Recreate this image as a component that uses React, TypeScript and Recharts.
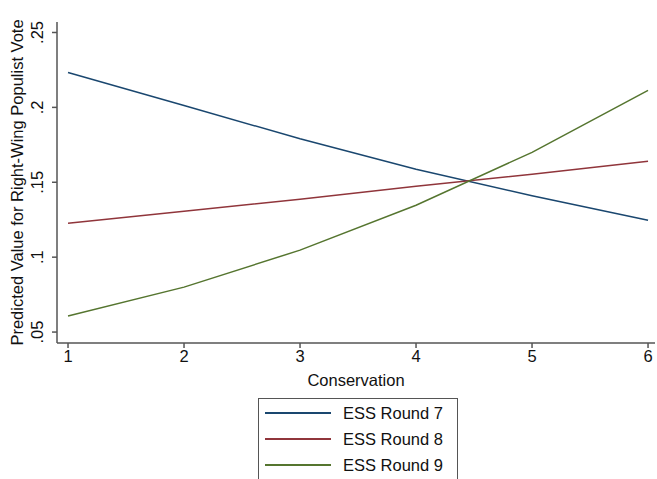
import { LineChart, Line, XAxis, YAxis } from "recharts";

const conservation = [1, 2, 3, 4, 5, 6];
const round7 = [0.2233, 0.2013, 0.179, 0.1587, 0.141, 0.1247];
const round8 = [0.1227, 0.1307, 0.1387, 0.1473, 0.1553, 0.164];
const round9 = [0.0607, 0.08, 0.1047, 0.1347, 0.17, 0.2113];
const yTicks = [0.05, 0.1, 0.15, 0.2, 0.25];
const yTickLabels = [".05", ".1", ".15", ".2", ".25"];
const seriesNames = ["ESS Round 7", "ESS Round 8", "ESS Round 9"];

const COLORS = ["#1a476f", "#90353b", "#55752f"];
const AXIS = "#555";
const FONT = "Liberation Sans, Arial, sans-serif";

const data = conservation.map((c, i) => ({
  x: c,
  r7: round7[i],
  r8: round8[i],
  r9: round9[i],
}));

const YTick = (props: any) => {
  const { x, y, payload } = props;
  const idx = yTicks.indexOf(payload.value);
  return (
    <text
      x={0}
      y={0}
      transform={`translate(${x - 7},${y}) rotate(-90)`}
      textAnchor="middle"
      fontSize={16.5}
      fontFamily={FONT}
      fill="#111"
    >
      {idx >= 0 ? yTickLabels[idx] : payload.value}
    </text>
  );
};

export default function App() {
  return (
    <div style={{ position: "absolute", left: 0, top: 0, width: 657, height: 479, background: "#fff" }}>
      <LineChart
        width={657}
        height={479}
        data={data}
        margin={{ top: 22, right: 2, bottom: 96, left: 0 }}
      >
        <XAxis
          dataKey="x"
          type="number"
          domain={[0.905, 6.06]}
          ticks={conservation}
          allowDataOverflow
          height={40}
          stroke={AXIS}
          strokeWidth={1.5}
          tickSize={5}
          tick={{ fontSize: 16.5, fontFamily: FONT, fill: "#111" }}
          label={{
            value: "Conservation",
            position: "insideBottom",
            offset: -3,
            fontSize: 16.5,
            fontFamily: FONT,
            fill: "#111",
          }}
        />
        <YAxis
          type="number"
          domain={[0.0427, 0.257]}
          ticks={yTicks}
          allowDataOverflow
          width={57}
          stroke={AXIS}
          strokeWidth={1.5}
          tickSize={5}
          tick={<YTick />}
          label={{
            value: "Predicted Value for Right-Wing Populist Vote",
            angle: -90,
            position: "insideLeft",
            offset: 17,
            fontSize: 16.5,
            fontFamily: FONT,
            fill: "#111",
            style: { textAnchor: "middle" },
          }}
        />
        <Line dataKey="r7" name={seriesNames[0]} stroke={COLORS[0]} strokeWidth={1.5} dot={false} isAnimationActive={false} />
        <Line dataKey="r8" name={seriesNames[1]} stroke={COLORS[1]} strokeWidth={1.5} dot={false} isAnimationActive={false} />
        <Line dataKey="r9" name={seriesNames[2]} stroke={COLORS[2]} strokeWidth={1.5} dot={false} isAnimationActive={false} />
      </LineChart>
      <div
        style={{
          position: "absolute",
          left: 258,
          top: 398,
          width: 200,
          height: 90,
          boxSizing: "border-box",
          border: "1px solid #555",
          background: "#fff",
          paddingTop: 1,
          fontFamily: FONT,
          fontSize: 16.5,
          color: "#111",
        }}
      >
        {seriesNames.map((name, i) => (
          <div key={name} style={{ display: "flex", alignItems: "center", height: 26 }}>
            <div style={{ width: 66, height: 1.5, background: COLORS[i], marginLeft: 6, marginRight: 12 }} />
            <span>{name}</span>
          </div>
        ))}
      </div>
    </div>
  );
}
